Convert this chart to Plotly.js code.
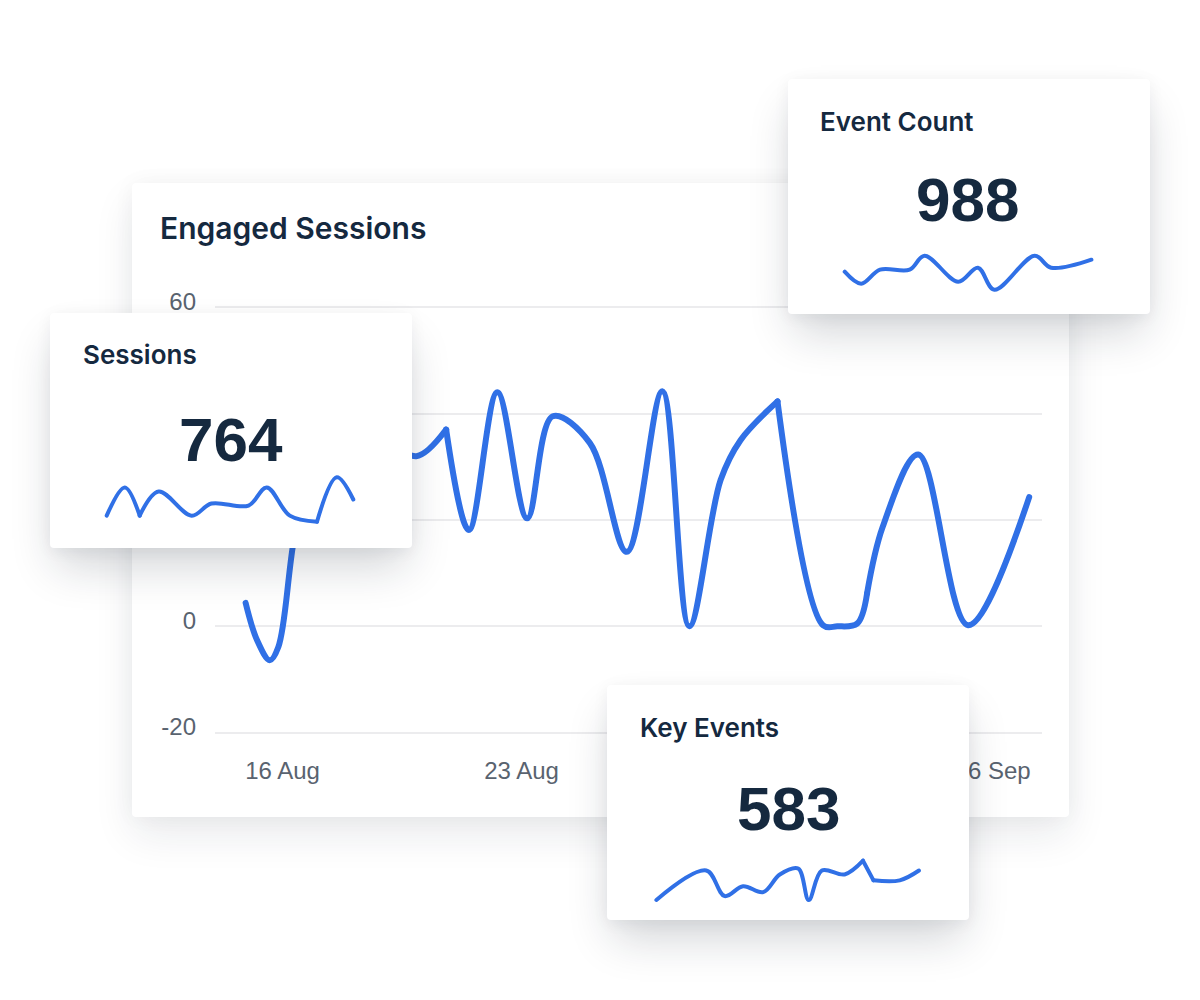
<!DOCTYPE html>
<html>
<head>
<meta charset="utf-8">
<script src="https://cdn.plot.ly/plotly-3.0.1.min.js"></script>
<style>
html,body{margin:0;padding:0;background:#ffffff;width:1200px;height:1000px;overflow:hidden;}
.card{position:absolute;background:#ffffff;border-radius:4px;}
#main{left:132px;top:183px;width:937px;height:634px;z-index:1;
  box-shadow:0 18px 40px rgba(20,30,50,0.09),0 0 22px rgba(20,30,50,0.045);}
.small{width:362px;height:235px;z-index:3;
  box-shadow:0 24px 42px -6px rgba(20,30,50,0.19),0 3px 16px rgba(20,30,50,0.06);}
#sess{left:50px;top:313px;}
#evt{left:788px;top:79px;}
#key{left:607px;top:685px;}
.js-line{stroke-linecap:round !important;stroke-linejoin:round !important;}
</style>
</head>
<body>
<div id="main" class="card"></div>
<div id="sess" class="card small"></div>
<div id="evt" class="card small"></div>
<div id="key" class="card small"></div>
<script>
// ---------- DATA ----------
const mainTitle = 'Engaged Sessions';
const mainDates = ['2024-08-14 22:00','2024-08-15 06:00','2024-08-15 15:00','2024-08-15 21:00','2024-08-16 07:00',
  '2024-08-16 22:00','2024-08-17 22:00','2024-08-19 00:00','2024-08-19 22:00','2024-08-20 19:00',
  '2024-08-21 11:00','2024-08-22 07:00','2024-08-23 04:00','2024-08-23 22:00','2024-08-25 00:00',
  '2024-08-26 02:00','2024-08-27 03:00','2024-08-27 22:00','2024-08-28 20:00','2024-08-29 10:00',
  '2024-08-30 12:00','2024-08-31 20:00','2024-09-01 06:00','2024-09-01 20:00','2024-09-02 03:00',
  '2024-09-02 14:00','2024-09-03 15:00','2024-09-05 02:00','2024-09-06 21:00'];
const mainValues = [4.4,-2.6,-6.4,-3.9,14.7,
  40,47,36,32,37,
  18.1,44,20.3,39.5,34.5,
  14,44.2,0,27.5,35,
  42.3,0.2,0,0.5,6.2,
  18.7,32.3,0.2,24.3];
const mainCorners = ['2024-08-20 19:00','2024-08-30 12:00','2024-09-02 03:00'];
const yTickVals = [-20,0,20,40,60];
const yTickText = ['-20','0','','','60'];      // 20 and 40 sit behind the Sessions card
const xTickVals = ['2024-08-16','2024-08-23','2024-09-06'];
const xTickText = ['16 Aug','23 Aug','6 Sep'];

const sessTitle = 'Sessions', sessTotal = '764';
const sessDays = [0,2.2,4.0,6.3,10.3,12.7,17.2,19.4,22.2,25.5,27.9,29.9];
const sessVals = [22,36,22,34,22,28,27,36,22,19,41,30];
const sessCorners = [2,9];

const evtTitle = 'Event Count', evtTotal = '988';
const evtDays = [0,2.0,4.3,7.9,9.7,13.8,16.2,18.2,23.1,25.1,30.0];
const evtVals = [44,38,45,45,52,39,46,35,52,46,50];
const evtCorners = [];

const keyTitle = 'Key Events', keyTotal = '583';
const keyDays = [0,5.7,7.8,9.9,12.2,14.1,16.2,17.4,18.9,21.5,23.6,24.8,27.8,30.0];
const keyVals = [20,35,22,27,24,33,36,20,35,33,40,30,30,35];
const keyCorners = [10,11];

// ---------- STYLE ----------
const BLUE = '#3070e6';
const NAVY = '#15293f';
const GREY = '#59636f';
const TITLE_FONT = 'Inter, Roboto, "Liberation Sans", Arial, sans-serif';
const BODY_FONT = '"Liberation Sans", Arial, Helvetica, sans-serif';
const cfg = {staticPlot:true, displayModeBar:false};

function segments(xs, ys, cuts, width){
  const idx = [0, ...cuts, xs.length-1];
  const out = [];
  for(let i=0;i<idx.length-1;i++){
    out.push({type:'scatter', mode:'lines', x:xs.slice(idx[i], idx[i+1]+1), y:ys.slice(idx[i], idx[i+1]+1),
      line:{color:BLUE, width:width, shape:'spline', smoothing:1}, hoverinfo:'skip', showlegend:false});
  }
  return out;
}

// ---------- MAIN CHART ----------
(function(){
  const W=937, H=634;
  const cutIdx = mainCorners.map(d => mainDates.indexOf(d));
  const traces = segments(mainDates, mainValues, cutIdx, 6);
  Plotly.newPlot('main', traces, {
    width:W, height:H, margin:{l:0,r:0,t:0,b:0},
    paper_bgcolor:'rgba(0,0,0,0)', plot_bgcolor:'rgba(0,0,0,0)',
    showlegend:false,
    xaxis:{domain:[83/W, 910/W], type:'date', range:['2024-08-14 00:28','2024-09-07 06:00'],
      tickvals:xTickVals, ticktext:xTickText,
      showgrid:false, zeroline:false, showline:false, ticks:'', ticklabelstandoff:20,
      tickfont:{family:BODY_FONT, size:24, color:GREY}},
    yaxis:{domain:[1-550.7/H, 1-123.2/H], range:[-20.2,60.2], tickvals:yTickVals, ticktext:yTickText,
      showgrid:true, gridcolor:'#ececee', gridwidth:2, zeroline:false, showline:false,
      ticks:'', ticklabelstandoff:18, ticklabelshift:-6,
      tickfont:{family:BODY_FONT, size:24, color:GREY}},
    annotations:[{text:mainTitle, xref:'paper', yref:'paper', x:26/W, y:1-45.3/H,
      xanchor:'left', yanchor:'middle', showarrow:false,
      font:{family:TITLE_FONT, size:30, color:NAVY, weight:600}}]
  }, cfg);
})();

// ---------- KPI CARDS ----------
function kpi(div, title, total, days, vals, corners, box, titleAt, numAt){
  const W=362, H=235, pad=12;
  const xmin=Math.min(...days), xmax=Math.max(...days);
  const ymin=Math.min(...vals), ymax=Math.max(...vals);
  const ux=(xmax-xmin)/(box.x1-box.x0), uy=(ymax-ymin)/(box.y1-box.y0);
  Plotly.newPlot(div, segments(days, vals, corners, 4), {
    width:W, height:H, margin:{l:0,r:0,t:0,b:0},
    paper_bgcolor:'rgba(0,0,0,0)', plot_bgcolor:'rgba(0,0,0,0)', showlegend:false,
    xaxis:{domain:[(box.x0-pad)/W,(box.x1+pad)/W], range:[xmin-pad*ux, xmax+pad*ux], visible:false, fixedrange:true},
    yaxis:{domain:[1-(box.y1+pad)/H, 1-(box.y0-pad)/H], range:[ymin-pad*uy, ymax+pad*uy], visible:false, fixedrange:true},
    annotations:[
      {text:title, xref:'paper', yref:'paper', x:titleAt[0]/W, y:1-titleAt[1]/H, xanchor:'left', yanchor:'middle',
        showarrow:false, font:{family:TITLE_FONT, size:26, color:NAVY, weight:600}},
      {text:total, xref:'paper', yref:'paper', x:numAt[0]/W, y:1-numAt[1]/H, xanchor:'center', yanchor:'middle',
        showarrow:false, font:{family:BODY_FONT, size:62, color:NAVY, weight:700}}
    ]
  }, cfg);
}
kpi('sess', sessTitle, sessTotal, sessDays, sessVals, sessCorners, {x0:56.7,x1:303.3,y0:164.3,y1:208.7}, [31.4,41.2], [181,126.5]);
kpi('evt', evtTitle, evtTotal, evtDays, evtVals, evtCorners, {x0:56.7,x1:303.4,y0:176.7,y1:210.7}, [30.2,42.9], [179.7,120.7]);
kpi('key', keyTitle, keyTotal, keyDays, keyVals, keyCorners, {x0:49.4,x1:312,y0:175.7,y1:215}, [30.7,42.8], [181.4,123.3]);
</script>
</body>
</html>
